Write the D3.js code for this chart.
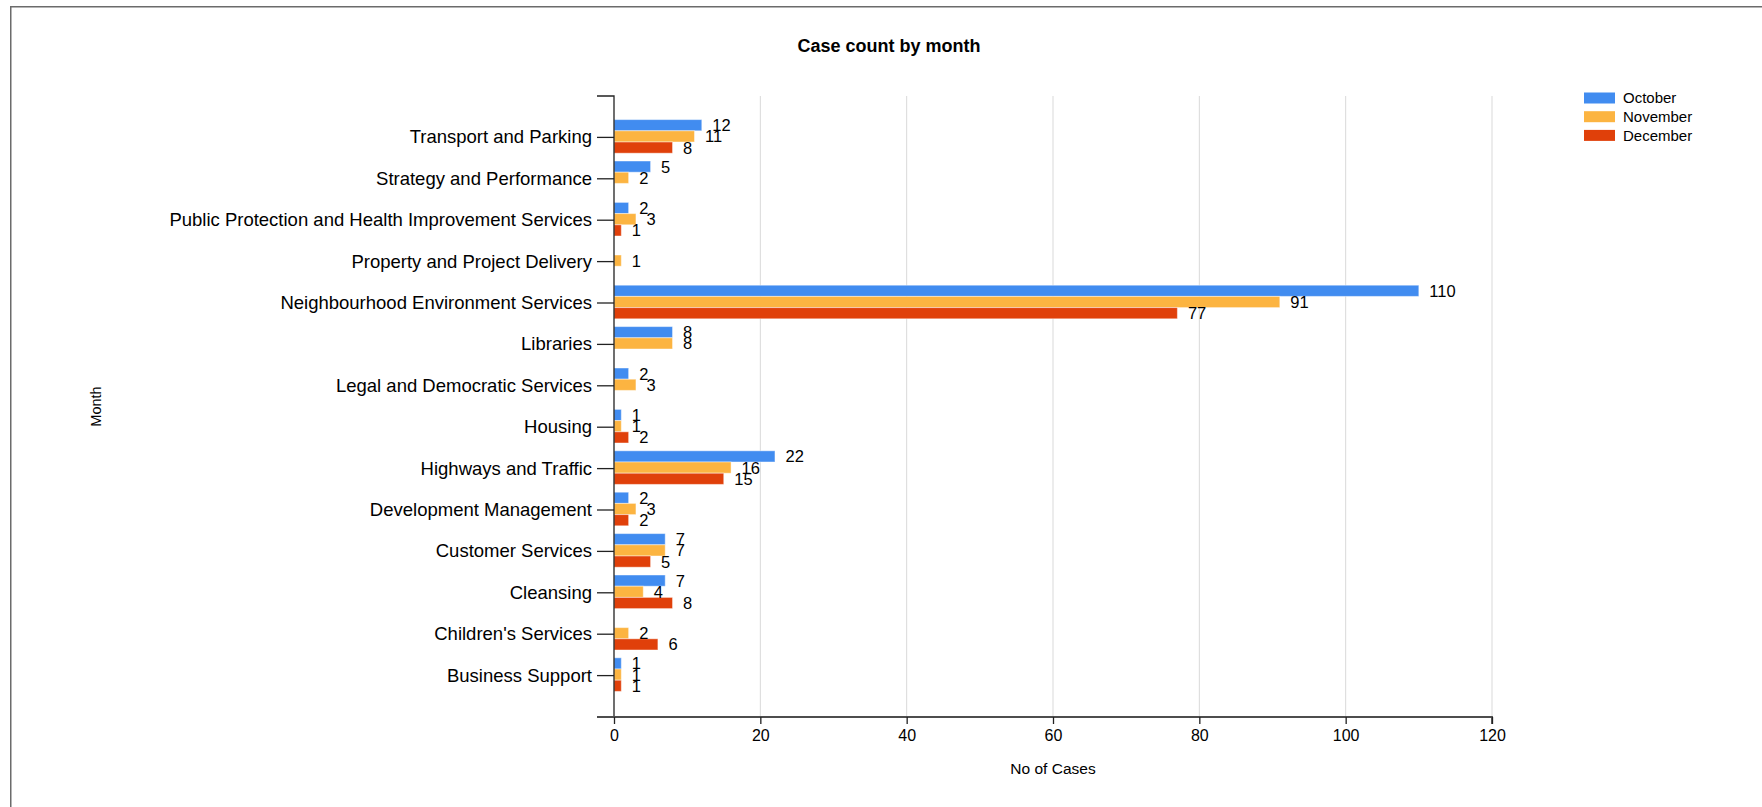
<!DOCTYPE html>
<html>
<head>
<meta charset="utf-8">
<script src="https://cdnjs.cloudflare.com/ajax/libs/d3/7.8.5/d3.min.js"></script>
<style>
  html, body { margin: 0; padding: 0; background: #fff; }
  text { font-family: "Liberation Sans", Arial, sans-serif; fill: #000; }
</style>
</head>
<body>
<script>
// categories, top to bottom as drawn
var categories = [
  "Transport and Parking",
  "Strategy and Performance",
  "Public Protection and Health Improvement Services",
  "Property and Project Delivery",
  "Neighbourhood Environment Services",
  "Libraries",
  "Legal and Democratic Services",
  "Housing",
  "Highways and Traffic",
  "Development Management",
  "Customer Services",
  "Cleansing",
  "Children's Services",
  "Business Support"
];

var months = ["October", "November", "December"];

// null = no bar for that month
var october  = [12, 5, 2, null, 110, 8, 2, 1, 22, 2, 7, 7, null, 1];
var november = [11, 2, 3, 1, 91, 8, 3, 1, 16, 3, 7, 4, 2, 1];
var december = [8, null, 1, null, 77, null, null, 2, 15, 2, 5, 8, 6, 1];

var xTicks = [0, 20, 40, 60, 80, 100, 120];

(function() {

  var width = 1762,
      height = 807;

  // colours
  var monthColors = ["#418CF0", "#FCB441", "#E0400A"],
      gridColor = "#d9d9d9",
      frameColor = "#6b6b6b";

  var plot = { left: 614, right: 1492, top: 96, bottom: 717 };

  var series = [october, november, december];

  var svg = d3.select("body").append("svg")
      .attr("width", width)
      .attr("height", height);

  // outer frame (top and left only)
  svg.append("path")
      .attr("d", "M10.75,807V6.75H1762")
      .attr("fill", "none")
      .attr("stroke", frameColor)
      .attr("stroke-width", 1.5);

  var x = d3.scaleLinear()
      .domain([0, 120])
      .range([plot.left, plot.right]);

  var y = d3.scaleBand()
      .domain(categories)
      .range([plot.top, plot.bottom])
      .paddingInner(0)
      .paddingOuter(0.5);

  var inner = d3.scaleBand()
      .domain(months)
      .range([-16.8, 16.8]);

  // grid lines
  svg.append("g").selectAll("line")
      .data(xTicks.slice(1))
      .enter()
      .append("line")
      .attr("x1", function(d) { return x(d); })
      .attr("x2", function(d) { return x(d); })
      .attr("y1", plot.top)
      .attr("y2", plot.bottom)
      .attr("stroke", gridColor)
      .attr("stroke-width", 1);

  // bars
  var rows = [];
  categories.forEach(function(c, i) {
    months.forEach(function(m, j) {
      if (series[j][i] != null) {
        rows.push({ cat: c, month: m, idx: j, value: series[j][i] });
      }
    });
  });

  svg.append("g").selectAll("rect")
      .data(rows)
      .enter()
      .append("rect")
      .attr("x", x(0))
      .attr("y", function(d) { return y(d.cat) + y.bandwidth() / 2 - 1 + inner(d.month); })
      .attr("width", function(d) { return x(d.value) - x(0); })
      .attr("height", inner.bandwidth())
      .attr("fill", function(d) { return monthColors[d.idx]; })
      .attr("stroke", "#fff")
      .attr("stroke-opacity", 0.45)
      .attr("stroke-width", 1);

  // value labels
  svg.append("g").selectAll("text")
      .data(rows)
      .enter()
      .append("text")
      .attr("x", function(d) { return x(d.value) + 10.5; })
      .attr("y", function(d) { return y(d.cat) + y.bandwidth() / 2 - 1 + inner(d.month) + inner.bandwidth() / 2; })
      .attr("dy", "0.36em")
      .attr("font-size", "16.5px")
      .text(function(d) { return d.value; });

  // y axis
  var yAxis = d3.axisLeft(y)
      .tickSize(17)
      .tickSizeOuter(17)
      .tickPadding(5);

  var gy = svg.append("g")
      .attr("transform", "translate(" + plot.left + ",0)")
      .call(yAxis);
  gy.select(".domain").attr("stroke", "#222").attr("stroke-width", 1.3)
      .attr("d", "M-17," + plot.top + "H0V" + plot.bottom);
  gy.selectAll(".tick line").attr("stroke", "#222").attr("stroke-width", 1.3);
  gy.selectAll(".tick text")
      .attr("font-size", "18.5px")
      .attr("font-family", "'Liberation Sans', Arial, sans-serif")
      .attr("fill", "#000");

  // x axis
  var xAxis = d3.axisBottom(x)
      .tickValues(xTicks)
      .tickSize(7)
      .tickSizeOuter(7)
      .tickPadding(6);

  var gx = svg.append("g")
      .attr("transform", "translate(0," + plot.bottom + ")")
      .call(xAxis);
  gx.select(".domain").attr("stroke", "#4d4d4d").attr("stroke-width", 1.8)
      .attr("d", "M" + (plot.left - 17) + ",0H" + plot.right + "V7");
  gx.selectAll(".tick line").attr("stroke", "#222").attr("stroke-width", 1.3);
  gx.selectAll(".tick text")
      .attr("font-size", "16px")
      .attr("font-family", "'Liberation Sans', Arial, sans-serif")
      .attr("fill", "#000");

  // titles
  svg.append("text")
      .attr("x", 889)
      .attr("y", 52)
      .attr("text-anchor", "middle")
      .attr("font-size", "18px")
      .attr("font-weight", "bold")
      .text("Case count by month");

  svg.append("text")
      .attr("x", (plot.left + plot.right) / 2)
      .attr("y", 774)
      .attr("text-anchor", "middle")
      .attr("font-size", "15.5px")
      .text("No of Cases");

  svg.append("text")
      .attr("transform", "translate(101," + ((plot.top + plot.bottom) / 2) + ") rotate(-90)")
      .attr("text-anchor", "middle")
      .attr("font-size", "14.5px")
      .text("Month");

  // legend
  var legend = svg.append("g").selectAll("g")
      .data(months)
      .enter()
      .append("g")
      .attr("transform", function(d, i) { return "translate(1584," + (92.5 + i * 18.7) + ")"; });

  legend.append("rect")
      .attr("width", 31)
      .attr("height", 11)
      .attr("fill", function(d, i) { return monthColors[i]; });

  legend.append("text")
      .attr("x", 39)
      .attr("y", 5.5)
      .attr("dy", "0.36em")
      .attr("font-size", "15px")
      .text(function(d) { return d; });

})();
</script>
</body>
</html>
